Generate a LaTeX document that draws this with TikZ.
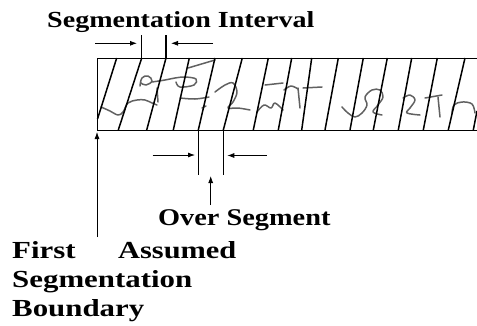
\documentclass[tikz,border=0pt]{standalone}
\usepackage{fontspec}
\setmainfont{Liberation Serif}
\usepackage{graphicx}
\usetikzlibrary{arrows.meta}
\begin{document}
\begin{tikzpicture}[x=1pt,y=-1pt,
  lbl/.style={inner sep=0pt, anchor=base west, font=\bfseries},
  frame/.style={line width=0.9pt},
  segline/.style={line width=1.5pt},
  bar/.style={line width=1.5pt},
  arr/.style={line width=0.8pt, -{Latex[length=7pt,width=5pt]}},
  hand/.style={line width=1.5pt, black!62, line cap=round, line join=round}]
\useasboundingbox (0,0) rectangle (477,325);

% handwriting (gray strokes)
\draw[hand] plot[smooth, tension=0.6] coordinates {(101,107) (110,111) (118,115) (123,112) (128,103) (137,100) (145,100) (152,103) (157,105)};
\draw[hand] plot[smooth, tension=0.7] coordinates {(140,86) (142,78) (148,76) (152,81) (146,85) (141,83)};
\draw[hand] plot[smooth, tension=0.6] coordinates {(152,82) (165,80) (175,78) (185,77) (196,79) (194,85) (180,87) (176,82)};
\draw[hand] (157,88) -- (158,102);
\draw[hand] plot[smooth, tension=0.6] coordinates {(180,98) (195,99) (209,97)};
\draw[hand] (202,108) -- (206,106);
\draw[hand] (188,68) -- (215,60);
\draw[hand] plot[smooth, tension=0.6] coordinates {(215,92) (225,85) (233,83) (237,92) (233,102) (228,108) (238,108) (250,110)};
\draw[hand] plot[smooth, tension=0.6] coordinates {(257,112) (264,105) (271,108) (275,103) (283,110)};
\draw[hand] (265,85) -- (283,83);
\draw[hand] plot[smooth, tension=0.6] coordinates {(284,90) (291,86) (298,89)};
\draw[hand] (298,88) -- (300,108);
\draw[hand] (303,88) -- (322,87);
\draw[hand] plot[smooth, tension=0.6] coordinates {(342,107) (348,113) (355,117) (362,113) (367,105) (365,97) (372,90) (380,90) (383,97) (378,105) (373,112) (382,115)};
\draw[hand] plot[smooth, tension=0.6] coordinates {(403,98) (410,95) (415,100) (410,108) (407,113) (420,115)};
\draw[hand] (425,98) -- (442,95);
\draw[hand] (438,97) -- (440,117);
\draw[hand] plot[smooth, tension=0.6] coordinates {(452,113) (454,105) (462,102) (472,104) (475,113)};

% frame (open on the right)
\draw[frame] (477,58) -- (97,58) -- (97,130) -- (477,130);

% slanted segmentation lines
\draw[segline] (116.7,58) -- (97.5,119);
\foreach \t/\b in {141.7/118.3, 166/146.7, 189.3/173.3, 215/198.3, 242.3/223.3,
                   268.3/253.3, 291.7/278.3, 311.7/301.7, 338.3/325, 363.3/350,
                   387.3/373.3, 411.7/398.3, 437.3/423.3, 465/448.3}
  \draw[segline] (\t,58) -- (\b,130);
\draw[segline] (473.3,130) -- (477,111);

% vertical bars
\draw[bar] (141.7,35) -- (141.7,58);
\draw[bar] (166,35) -- (166,58);
\draw[bar] (198.3,130) -- (198.3,174.5);
\draw[bar] (223.3,130) -- (223.3,174.5);

% labels
\node[lbl] (si) at (47,27) {\fontsize{23}{23}\selectfont\scalebox{1.22}[1]{Segmentation Interval}};
\node[lbl] (os) at (158,225) {\fontsize{24}{24}\selectfont\scalebox{1.18}[1]{Over Segment}};
\node[lbl] (first) at (12,258) {\fontsize{24.5}{24.5}\selectfont\scalebox{1.26}[1]{First}};
\node[lbl] (assumed) at (118,258) {\fontsize{24.5}{24.5}\selectfont\scalebox{1.24}[1]{Assumed}};
\node[lbl] (segm) at (12,287) {\fontsize{24.5}{24.5}\selectfont\scalebox{1.26}[1]{Segmentation}};
\node[lbl] (bound) at (12,316) {\fontsize{24.5}{24.5}\selectfont\scalebox{1.26}[1]{Boundary}};

% arrows
\coordinate (ua1s) at (95,43.3);
\coordinate (ua1e) at (137,43.3);
\coordinate (ua2s) at (213,43.3);
\coordinate (ua2e) at (171,43.3);
\coordinate (la1s) at (152.7,155);
\coordinate (la1e) at (195,155);
\coordinate (la2s) at (266.7,155.5);
\coordinate (la2e) at (227.3,155.5);
\coordinate (ups) at (210.7,205);
\coordinate (upe) at (210.7,176);
\coordinate (fbs) at (97,237);
\coordinate (fbe) at (97,132);
\draw[arr] (ua1s) -- (ua1e);
\draw[arr] (ua2s) -- (ua2e);
\draw[arr] (la1s) -- (la1e);
\draw[arr] (la2s) -- (la2e);
\draw[arr] (ups) -- (upe);
\draw[arr] (fbs) -- (fbe);
\end{tikzpicture}
\end{document}
